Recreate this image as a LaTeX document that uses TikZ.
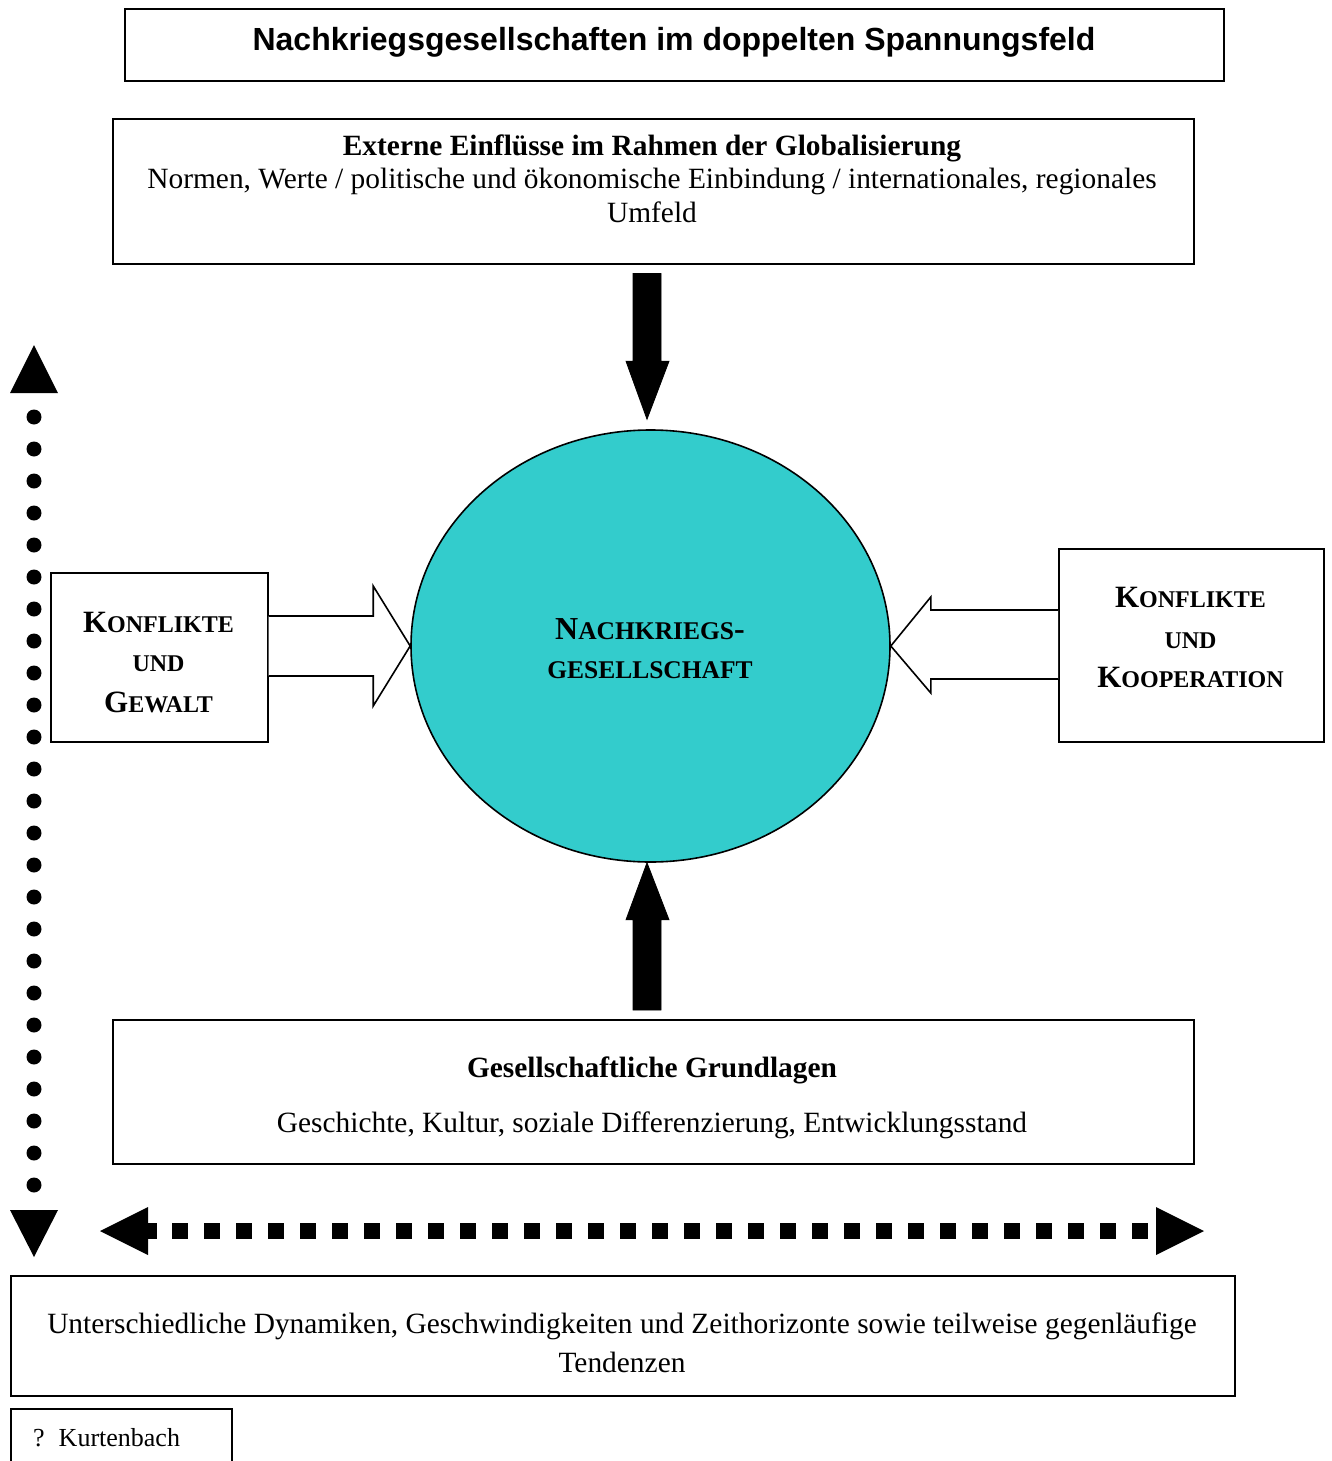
\documentclass[tikz,border=0pt]{standalone}
\usepackage{fontspec}
\setmainfont{Liberation Serif}
\newfontfamily\headfont{Liberation Sans}
\usetikzlibrary{calc,shapes.geometric}
\definecolor{societyfill}{HTML}{33CCCC}

% fake small caps: capital in full size, rest in the smaller size
\newcommand\smc[1]{{\fontsize{24}{27}\selectfont #1}}
\newcommand\smcbig[1]{{\fontsize{25.5}{28}\selectfont #1}}

\begin{document}
\begin{tikzpicture}[x=1pt,y=-1pt,
  frame/.style={draw, line width=1.6pt, inner sep=0pt, anchor=north west},
  body/.style={inner sep=0pt, anchor=base, font=\fontsize{29.4}{33}\selectfont},
  bodybold/.style={body, font=\fontsize{29.4}{33}\selectfont\bfseries},
  capsbox/.style={inner sep=0pt, anchor=base, font=\fontsize{31}{34}\selectfont\bfseries},
  capscirc/.style={inner sep=0pt, anchor=base, font=\fontsize{32}{35}\selectfont\bfseries},
  blockarrow/.style={draw, line width=1.6pt, fill=white, line join=miter},
  solidarrow/.style={fill=black, draw=black, line width=0.8pt},
  bigtip/.style={fill=black},
  dot/.style={circle, fill=black, inner sep=0pt, minimum size=15pt},
  dash square/.style={fill=black}
]
\useasboundingbox (0,0) rectangle (1331,1461);

% ---------- title ----------
\node[frame, minimum width=1099, minimum height=72] (title) at (124,8) {};
\node[inner sep=0pt, anchor=base, font=\headfont\bfseries\fontsize{32}{36}\selectfont]
  (titletext) at (674,51) {Nachkriegsgesellschaften im doppelten Spannungsfeld};

% ---------- external influences ----------
\node[frame, minimum width=1081, minimum height=145] (ext) at (112,118) {};
\node[bodybold] (exthead) at (652,156) {Externe Einflüsse im Rahmen der Globalisierung};
\node[body] (extline1) at (652,188) {Normen, Werte / politische und ökonomische Einbindung / internationales, regionales};
\node[body] (extline2) at (652,222) {Umfeld};

% ---------- central society ----------
\node[draw, line width=1.6pt, ellipse, fill=societyfill, minimum width=479, minimum height=432,
  inner sep=0pt] (soc) at (650.5,646) {};
\node[capscirc] (socline1) at (650,639) {N\smcbig{ACHKRIEGS}-};
\node[capscirc] (socline2) at (650,678) {\smcbig{GESELLSCHAFT}};

% ---------- left box ----------
\node[frame, minimum width=217, minimum height=169] (lbox) at (50,572) {};
\node[capsbox] (lline1) at (158.5,632) {K\smc{ONFLIKTE}};
\node[capsbox] (lline2) at (158.5,671) {\smc{UND}};
\node[capsbox] (lline3) at (158.5,712) {G\smc{EWALT}};

% ---------- right box ----------
\node[frame, minimum width=265, minimum height=193] (rbox) at (1058,548) {};
\node[capsbox] (rline1) at (1190.5,607) {K\smc{ONFLIKTE}};
\node[capsbox] (rline2) at (1190.5,648) {\smc{UND}};
\node[capsbox] (rline3) at (1190.5,687) {K\smc{OOPERATION}};

% ---------- social foundations ----------
\node[frame, minimum width=1081, minimum height=144] (base) at (112,1019) {};
\node[bodybold] (basehead) at (652,1077) {Gesellschaftliche Grundlagen};
\node[body] (baseline1) at (652,1132) {Geschichte, Kultur, soziale Differenzierung, Entwicklungsstand};

% ---------- dynamics ----------
\node[frame, minimum width=1224, minimum height=120] (dyn) at (10,1275) {};
\node[body] (dynline1) at (622,1333) {Unterschiedliche Dynamiken, Geschwindigkeiten und Zeithorizonte sowie teilweise gegenläufige};
\node[body] (dynline2) at (622,1372) {Tendenzen};

% ---------- author ----------
\node[frame, minimum width=221, minimum height=70] (author) at (10,1408) {};
\node[inner sep=0pt, anchor=base west, font=\fontsize{26}{30}\selectfont]
  (authortext) at (33,1446) {?\hspace{14pt}Kurtenbach};

% ---------- solid arrows: external influences down, foundations up ----------
\coordinate (downtip) at ($(soc.north -| 647,0)+(0,-10)$);
\fill[solidarrow] ($(ext.south -| downtip)+(-14,9)$) -- ($(ext.south -| downtip)+(14,9)$)
  -- ($(downtip)+(14,-58)$) -- ($(downtip)+(22,-58)$) -- (downtip)
  -- ($(downtip)+(-21,-58)$) -- ($(downtip)+(-14,-58)$) -- cycle;

\coordinate (uptip) at (soc.south -| 647,0);
\fill[solidarrow] ($(base.north -| uptip)+(-14,-9)$) -- ($(base.north -| uptip)+(14,-9)$)
  -- ($(uptip)+(14,57)$) -- ($(uptip)+(22,57)$) -- (uptip)
  -- ($(uptip)+(-21,57)$) -- ($(uptip)+(-14,57)$) -- cycle;

% ---------- block arrows from the side boxes ----------
\coordinate (ltip) at (soc.west);
\coordinate (lstart) at (lbox.east |- ltip);
\draw[blockarrow] ($(lstart)+(0,-30)$) -- ($(ltip)+(-37,-30)$) -- ($(ltip)+(-37,-60)$)
  -- (ltip) -- ($(ltip)+(-37,60)$) -- ($(ltip)+(-37,30)$) -- ($(lstart)+(0,30)$);

\coordinate (rtip) at (soc.east);
\coordinate (rstart) at (rbox.west |- rtip);
\draw[blockarrow] ($(rstart)+(0,-36)$) -- ($(rtip)+(40,-36)$) -- ($(rtip)+(40,-49)$)
  -- (rtip) -- ($(rtip)+(40,47)$) -- ($(rtip)+(40,33)$) -- ($(rstart)+(0,33)$);

% ---------- dotted vertical double arrow ----------
\coordinate (vtop) at (34,345);
\coordinate (vbot) at (34,1257);
\fill[bigtip] (vtop) -- ($(vtop)+(24,48)$) -- ($(vtop)+(-24,48)$) -- cycle;
\fill[bigtip] (vbot) -- ($(vbot)+(24,-47)$) -- ($(vbot)+(-24,-47)$) -- cycle;
\foreach \k in {0,...,24}
  \node[dot] (vdot\k) at (34,417+32*\k) {};

% ---------- dashed horizontal double arrow ----------
\coordinate (hleft) at (100,1231);
\coordinate (hright) at (1204,1231);
\fill[bigtip] (hleft) -- ($(hleft)+(48,-24)$) -- ($(hleft)+(48,24)$) -- cycle;
\fill[bigtip] (hright) -- ($(hright)+(-48,-24)$) -- ($(hright)+(-48,24)$) -- cycle;
\fill[dash square] (147,1223) rectangle (157,1239);
\foreach \k in {0,...,30}
  \fill[dash square] (172+32*\k,1223) rectangle (188+32*\k,1239);

\end{tikzpicture}
\end{document}
